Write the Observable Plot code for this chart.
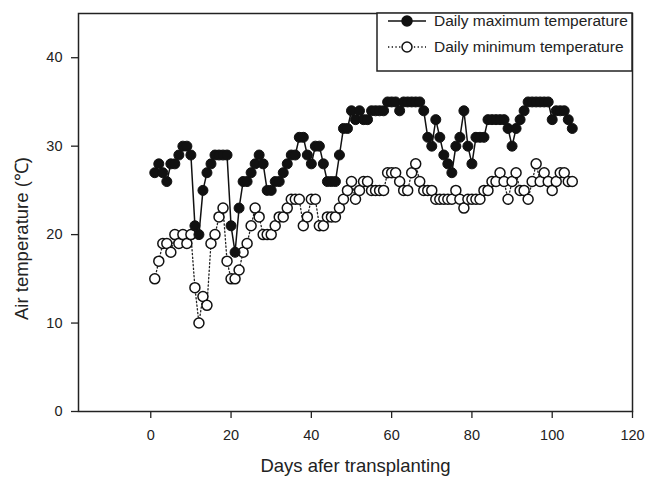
<!DOCTYPE html>
<html>
<head>
<meta charset="utf-8">
<script src="https://cdn.jsdelivr.net/npm/d3@7"></script>
<script src="https://cdn.jsdelivr.net/npm/@observablehq/plot@0.6"></script>
<style>
  html, body { margin: 0; padding: 0; background: #fff; }
  #chart { width: 650px; height: 479px; }
</style>
</head>
<body>
<div id="chart"></div>
<script>
const days = [1,2,3,4,5,6,7,8,9,10,11,12,13,14,15,16,17,18,19,20,21,22,23,24,25,26,27,28,29,30,
  31,32,33,34,35,36,37,38,39,40,41,42,43,44,45,46,47,48,49,50,51,52,53,54,55,56,57,58,59,60,
  61,62,63,64,65,66,67,68,69,70,71,72,73,74,75,76,77,78,79,80,81,82,83,84,85,86,87,88,89,90,
  91,92,93,94,95,96,97,98,99,100,101,102,103,104,105];
const maxTemp = [27,28,27,26,28,28,29,30,30,29,21,20,25,27,28,29,29,29,29,21,18,23,26,26,27,28,29,28,25,25,
  26,26,27,28,29,29,31,31,29,28,30,30,28,26,26,26,29,32,32,34,33,34,33,33,34,34,34,34,35,35,
  35,34,35,35,35,35,35,34,31,30,33,31,29,28,27,30,31,34,30,28,31,31,31,33,33,33,33,33,32,30,
  32,33,34,35,35,35,35,35,35,33,34,34,34,33,32];
const minTemp = [15,17,19,19,18,20,19,20,19,20,14,10,13,12,19,20,22,23,17,15,15,16,18,19,21,23,22,20,20,20,
  21,22,22,23,24,24,24,21,22,24,24,21,21,22,22,22,23,24,25,26,24,25,26,26,25,25,25,25,27,27,
  27,26,25,25,27,28,26,25,25,25,24,24,24,24,24,25,24,23,24,24,24,24,25,25,26,26,27,26,24,26,
  27,25,25,24,26,28,26,27,26,25,26,27,27,26,26];
const xTicks = [0, 20, 40, 60, 80, 100, 120];
const yTicks = [0, 10, 20, 30, 40];
const seriesNames = ["Daily maximum temperature", "Daily minimum temperature"];
const xTitle = "Days afer transplanting";
const yTitle = "Air temperature (\u2103)";

const maxData = days.map((d, i) => ({day: d, temp: maxTemp[i]}));
const minData = days.map((d, i) => ({day: d, temp: minTemp[i]}));

const font = "'Liberation Sans', Arial, sans-serif";

const chart = Plot.plot({
  width: 650,
  height: 479,
  marginLeft: 78,
  marginRight: 18,
  marginTop: 13,
  marginBottom: 68,
  style: {fontFamily: font, fontSize: "14px", color: "#222", background: "#fff"},
  x: {domain: [-18, 120]},
  y: {domain: [0, 45]},
  marks: [
    Plot.axisX({ticks: xTicks, tickSize: 7, tickPadding: 11, label: null, stroke: "#222", strokeWidth: 1.3, fontSize: 14.5}),
    Plot.axisY({ticks: yTicks, tickSize: 7, tickPadding: 9, label: null, stroke: "#222", strokeWidth: 1.3, fontSize: 14.5}),
    Plot.frame({stroke: "#222", strokeWidth: 1.5}),
    Plot.line(minData, {x: "day", y: "temp", stroke: "#222", strokeWidth: 1.3, strokeDasharray: "1.3,2.4"}),
    Plot.dot(minData, {x: "day", y: "temp", r: 5, fill: "white", stroke: "#111", strokeWidth: 1.5}),
    Plot.line(maxData, {x: "day", y: "temp", stroke: "#111", strokeWidth: 1.5}),
    Plot.dot(maxData, {x: "day", y: "temp", r: 5, fill: "#111", stroke: "#111", strokeWidth: 1}),
    Plot.text([xTitle], {frameAnchor: "bottom", textAnchor: "middle", dy: 60, fontSize: 18.5, fill: "#222"}),
    Plot.text([yTitle], {frameAnchor: "left", textAnchor: "middle", rotate: -90, dx: -56, dy: 26, fontSize: 18.5, fill: "#222"})
  ]
});
document.getElementById("chart").appendChild(chart);

// legend inside the plot area (top right)
const svg = d3.select(chart);
const lg = svg.append("g").attr("font-family", font).attr("font-size", 15.5).attr("fill", "#222")
  .attr("text-anchor", "start");
lg.append("rect").attr("x", 377).attr("y", 13).attr("width", 255).attr("height", 58)
  .attr("fill", "white").attr("stroke", "#222").attr("stroke-width", 1.5);
const rows = [
  {name: seriesNames[0], y: 21, dash: null, fill: "#111", sw: 1.5},
  {name: seriesNames[1], y: 47, dash: "1.3,2.4", fill: "white", sw: 1.3}
];
rows.forEach(r => {
  lg.append("line").attr("x1", 388).attr("x2", 426).attr("y1", r.y).attr("y2", r.y)
    .attr("stroke", "#111").attr("stroke-width", r.sw).attr("stroke-dasharray", r.dash);
  lg.append("circle").attr("cx", 407).attr("cy", r.y).attr("r", 5)
    .attr("fill", r.fill).attr("stroke", "#111").attr("stroke-width", 1.5);
  lg.append("text").attr("x", 434).attr("y", r.y).attr("dy", "0.35em")
    .attr("text-anchor", "start").text(r.name);
});
</script>
</body>
</html>
